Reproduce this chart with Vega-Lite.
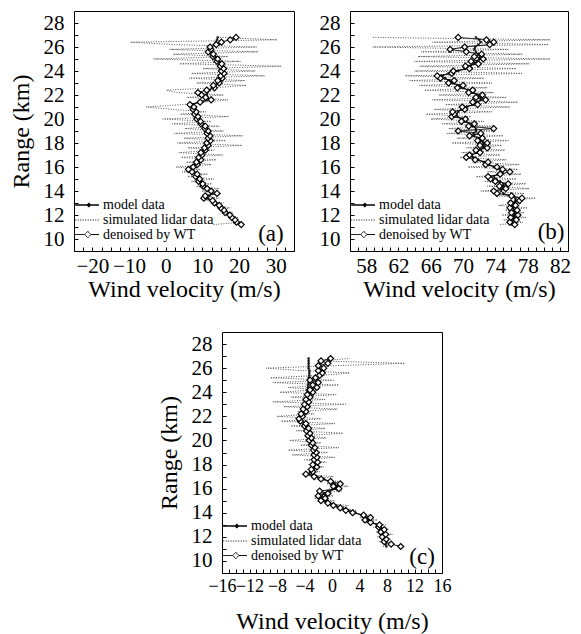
{
"$schema":"https://vega.github.io/schema/vega-lite/v6.json",
"padding":{"left":8,"top":10,"right":4,"bottom":2},
"config":{"font":"Liberation Serif","view":{"stroke":"#000","strokeWidth":1},
"axis":{"labelFont":"Liberation Serif","titleFont":"Liberation Serif","labelFontSize":21,"titleFontSize":24,"titleFontWeight":"normal","labelColor":"#000","titleColor":"#000","domain":false,"grid":false,"tickColor":"#000","tickSize":-4,"tickCount":200,"labelOverlap":false,"labelFlush":false,"labelBound":false},
"axisY":{"labelPadding":14,"titlePadding":10},
"axisX":{"labelPadding":8,"titlePadding":1},
"legend":{"labelFont":"Liberation Serif","labelFontSize":14,"labelColor":"#000"}},
"datasets":{
"a":[{"r":11.2,"m":20.4,"d":20.6,"l":13.0},{"r":11.4,"m":19.6,"d":19.3,"l":20.8},{"r":11.6,"m":18.9,"d":18.9,"l":18.0},{"r":11.8,"m":18.2,"d":18.0,"l":19.6},{"r":12.0,"m":17.3,"d":17.5,"l":16.2},{"r":12.2,"m":16.5,"d":16.2,"l":18.4},{"r":12.4,"m":15.7,"d":15.9,"l":14.8},{"r":12.6,"m":15.2,"d":15.0,"l":17.6},{"r":12.8,"m":14.4,"d":14.6,"l":13.0},{"r":13.0,"m":13.6,"d":13.3,"l":15.8},{"r":13.2,"m":12.5,"d":12.8,"l":11.2},{"r":13.4,"m":11.5,"d":10.4,"l":14.6},{"r":13.6,"m":12.0,"d":10.8,"l":10.4},{"r":13.8,"m":12.6,"d":14.0,"l":15.2},{"r":14.0,"m":11.8,"d":12.4,"l":9.8},{"r":14.2,"m":11.1,"d":11.3,"l":14.5},{"r":14.4,"m":10.5,"d":10.2,"l":8.4},{"r":14.6,"m":9.8,"d":10.1,"l":12.6},{"r":14.8,"m":9.2,"d":9.0,"l":7.0},{"r":15.0,"m":8.9,"d":9.3,"l":13.2},{"r":15.2,"m":8.5,"d":8.2,"l":6.0},{"r":15.4,"m":8.2,"d":8.6,"l":11.5},{"r":15.6,"m":7.5,"d":7.2,"l":4.5},{"r":15.8,"m":6.8,"d":6.2,"l":9.5},{"r":16.0,"m":6.9,"d":7.5,"l":2.8},{"r":16.2,"m":8.1,"d":8.6,"l":12.4},{"r":16.4,"m":8.8,"d":8.4,"l":5.6},{"r":16.6,"m":9.2,"d":9.6,"l":13.8},{"r":16.8,"m":9.3,"d":9.0,"l":4.2},{"r":17.0,"m":9.5,"d":9.9,"l":15.6},{"r":17.2,"m":9.9,"d":9.6,"l":3.6},{"r":17.4,"m":10.4,"d":10.8,"l":13.2},{"r":17.6,"m":10.9,"d":10.6,"l":6.0},{"r":17.8,"m":11.3,"d":11.6,"l":20.8},{"r":18.0,"m":11.6,"d":11.2,"l":3.2},{"r":18.2,"m":11.8,"d":12.2,"l":16.4},{"r":18.4,"m":11.9,"d":11.6,"l":5.0},{"r":18.6,"m":11.8,"d":12.1,"l":21.0},{"r":18.8,"m":11.6,"d":11.3,"l":2.4},{"r":19.0,"m":11.3,"d":11.6,"l":15.8},{"r":19.2,"m":11.0,"d":10.7,"l":5.2},{"r":19.4,"m":10.5,"d":10.8,"l":14.6},{"r":19.6,"m":9.9,"d":9.6,"l":1.8},{"r":19.8,"m":9.3,"d":9.5,"l":12.4},{"r":20.0,"m":8.8,"d":8.5,"l":-0.8},{"r":20.2,"m":8.5,"d":8.8,"l":17.2},{"r":20.4,"m":8.2,"d":7.9,"l":4.0},{"r":20.6,"m":8.0,"d":8.3,"l":11.0},{"r":20.8,"m":7.8,"d":7.5,"l":2.0},{"r":21.0,"m":7.4,"d":7.7,"l":-5.4},{"r":21.2,"m":6.9,"d":6.6,"l":4.6},{"r":21.4,"m":9.0,"d":9.4,"l":10.2},{"r":21.6,"m":11.0,"d":12.4,"l":17.0},{"r":21.8,"m":11.4,"d":10.9,"l":5.8},{"r":22.0,"m":11.2,"d":9.8,"l":15.8},{"r":22.2,"m":11.4,"d":8.8,"l":3.0},{"r":22.4,"m":12.0,"d":11.2,"l":0.2},{"r":22.6,"m":12.8,"d":13.3,"l":12.8},{"r":22.8,"m":13.5,"d":13.0,"l":22.0},{"r":23.0,"m":14.1,"d":14.6,"l":8.4},{"r":23.2,"m":14.6,"d":14.2,"l":21.6},{"r":23.4,"m":15.0,"d":15.4,"l":6.4},{"r":23.6,"m":15.3,"d":15.0,"l":27.0},{"r":23.8,"m":15.5,"d":15.9,"l":7.0},{"r":24.0,"m":15.5,"d":15.2,"l":24.5},{"r":24.2,"m":15.4,"d":15.8,"l":10.2},{"r":24.4,"m":15.2,"d":14.9,"l":31.6},{"r":24.6,"m":14.9,"d":15.3,"l":3.8},{"r":24.8,"m":14.4,"d":14.0,"l":20.4},{"r":25.0,"m":13.8,"d":14.2,"l":-3.4},{"r":25.2,"m":13.3,"d":12.9,"l":17.0},{"r":25.4,"m":12.6,"d":13.0,"l":2.0},{"r":25.6,"m":12.0,"d":11.6,"l":25.2},{"r":25.8,"m":11.9,"d":12.3,"l":1.0},{"r":26.0,"m":12.5,"d":12.1,"l":24.8},{"r":26.2,"m":13.2,"d":13.8,"l":2.4},{"r":26.4,"m":13.7,"d":15.2,"l":-9.6},{"r":26.6,"m":14.0,"d":17.6,"l":30.4},{"r":26.8,"m":14.2,"d":19.2,"l":14.8}],
"b":[{"r":11.2,"m":76.0,"d":76.4,"l":74.6},{"r":11.4,"m":76.1,"d":75.8,"l":77.4},{"r":11.6,"m":76.2,"d":76.6,"l":75.0},{"r":11.8,"m":76.3,"d":75.9,"l":77.8},{"r":12.0,"m":76.3,"d":76.8,"l":74.8},{"r":12.2,"m":76.4,"d":76.0,"l":77.6},{"r":12.4,"m":76.3,"d":76.7,"l":75.2},{"r":12.6,"m":76.2,"d":75.8,"l":78.0},{"r":12.8,"m":76.2,"d":76.5,"l":74.4},{"r":13.0,"m":76.3,"d":75.9,"l":77.2},{"r":13.2,"m":76.5,"d":77.0,"l":75.6},{"r":13.4,"m":76.5,"d":77.3,"l":79.0},{"r":13.6,"m":75.8,"d":76.0,"l":74.0},{"r":13.8,"m":75.0,"d":74.2,"l":77.6},{"r":14.0,"m":74.7,"d":73.8,"l":72.2},{"r":14.2,"m":74.8,"d":75.3,"l":78.2},{"r":14.4,"m":75.0,"d":74.5,"l":73.0},{"r":14.6,"m":75.0,"d":75.6,"l":77.8},{"r":14.8,"m":74.6,"d":74.0,"l":72.6},{"r":15.0,"m":74.1,"d":73.4,"l":76.6},{"r":15.2,"m":73.8,"d":73.1,"l":71.6},{"r":15.4,"m":74.3,"d":74.6,"l":77.2},{"r":15.6,"m":74.9,"d":75.8,"l":73.0},{"r":15.8,"m":74.6,"d":74.9,"l":76.8},{"r":16.0,"m":73.8,"d":74.2,"l":70.6},{"r":16.2,"m":73.2,"d":72.8,"l":77.0},{"r":16.4,"m":72.6,"d":73.1,"l":71.2},{"r":16.6,"m":71.9,"d":71.5,"l":75.4},{"r":16.8,"m":71.2,"d":70.4,"l":69.6},{"r":17.0,"m":71.1,"d":70.8,"l":74.6},{"r":17.2,"m":71.6,"d":72.1,"l":69.8},{"r":17.4,"m":72.2,"d":71.6,"l":75.2},{"r":17.6,"m":72.5,"d":73.0,"l":70.4},{"r":17.8,"m":72.6,"d":72.1,"l":74.8},{"r":18.0,"m":72.5,"d":73.0,"l":68.6},{"r":18.2,"m":72.3,"d":71.8,"l":75.6},{"r":18.4,"m":71.9,"d":72.4,"l":69.2},{"r":18.6,"m":71.4,"d":70.8,"l":75.0},{"r":18.8,"m":71.3,"d":72.2,"l":68.0},{"r":19.0,"m":71.6,"d":69.4,"l":74.0},{"r":19.2,"m":71.6,"d":73.8,"l":68.2},{"r":19.4,"m":71.2,"d":70.7,"l":73.8},{"r":19.6,"m":70.8,"d":71.4,"l":67.4},{"r":19.8,"m":70.4,"d":69.8,"l":72.6},{"r":20.0,"m":69.8,"d":70.3,"l":66.0},{"r":20.2,"m":69.3,"d":68.6,"l":71.0},{"r":20.4,"m":69.2,"d":68.9,"l":65.4},{"r":20.6,"m":69.4,"d":68.7,"l":73.6},{"r":20.8,"m":69.8,"d":70.2,"l":66.4},{"r":21.0,"m":70.5,"d":69.9,"l":75.8},{"r":21.2,"m":71.2,"d":71.8,"l":67.8},{"r":21.4,"m":71.8,"d":71.2,"l":76.8},{"r":21.6,"m":72.2,"d":72.8,"l":66.2},{"r":21.8,"m":72.2,"d":71.6,"l":75.4},{"r":22.0,"m":71.8,"d":72.4,"l":67.0},{"r":22.2,"m":71.3,"d":70.7,"l":73.8},{"r":22.4,"m":70.6,"d":71.2,"l":65.2},{"r":22.6,"m":70.0,"d":69.3,"l":73.0},{"r":22.8,"m":69.4,"d":70.0,"l":64.6},{"r":23.0,"m":68.8,"d":68.2,"l":73.6},{"r":23.2,"m":68.3,"d":68.9,"l":63.4},{"r":23.4,"m":67.8,"d":67.2,"l":72.6},{"r":23.6,"m":67.4,"d":66.8,"l":62.8},{"r":23.8,"m":68.2,"d":68.6,"l":77.4},{"r":24.0,"m":69.4,"d":68.8,"l":64.0},{"r":24.2,"m":70.2,"d":70.8,"l":76.6},{"r":24.4,"m":70.9,"d":70.3,"l":64.6},{"r":24.6,"m":71.3,"d":71.9,"l":78.2},{"r":24.8,"m":71.7,"d":71.0,"l":64.0},{"r":25.0,"m":72.0,"d":72.5,"l":80.8},{"r":25.2,"m":72.1,"d":71.4,"l":64.4},{"r":25.4,"m":71.9,"d":72.3,"l":77.4},{"r":25.6,"m":71.6,"d":70.4,"l":64.8},{"r":25.8,"m":71.4,"d":68.4,"l":75.6},{"r":26.0,"m":71.5,"d":70.2,"l":58.8},{"r":26.2,"m":71.9,"d":73.3,"l":80.6},{"r":26.4,"m":72.2,"d":73.8,"l":66.2},{"r":26.6,"m":72.0,"d":72.9,"l":80.8},{"r":26.8,"m":71.6,"d":69.4,"l":58.8}],
"c":[{"r":11.2,"m":7.9,"d":10.0,"l":7.4},{"r":11.4,"m":7.8,"d":8.6,"l":9.0},{"r":11.6,"m":7.7,"d":7.6,"l":6.8},{"r":11.8,"m":7.6,"d":7.9,"l":8.6},{"r":12.0,"m":7.5,"d":7.3,"l":6.6},{"r":12.2,"m":7.4,"d":7.8,"l":8.8},{"r":12.4,"m":7.3,"d":7.1,"l":6.4},{"r":12.6,"m":7.2,"d":7.6,"l":8.2},{"r":12.8,"m":7.0,"d":6.8,"l":6.0},{"r":13.0,"m":6.5,"d":6.9,"l":7.8},{"r":13.2,"m":5.8,"d":5.6,"l":4.6},{"r":13.4,"m":5.3,"d":4.8,"l":6.6},{"r":13.6,"m":4.9,"d":5.6,"l":4.0},{"r":13.8,"m":4.3,"d":4.6,"l":5.8},{"r":14.0,"m":3.4,"d":3.0,"l":2.6},{"r":14.2,"m":2.4,"d":2.0,"l":3.6},{"r":14.4,"m":1.5,"d":1.2,"l":0.6},{"r":14.6,"m":0.6,"d":0.2,"l":2.4},{"r":14.8,"m":-0.3,"d":-0.6,"l":-1.2},{"r":15.0,"m":-1.0,"d":-1.6,"l":0.4},{"r":15.2,"m":-1.4,"d":-1.0,"l":-2.6},{"r":15.4,"m":-1.5,"d":-2.0,"l":0.2},{"r":15.6,"m":-1.2,"d":-0.6,"l":-2.0},{"r":15.8,"m":-0.3,"d":-1.8,"l":1.4},{"r":16.0,"m":0.6,"d":1.0,"l":-0.4},{"r":16.2,"m":0.8,"d":0.2,"l":2.4},{"r":16.4,"m":0.4,"d":1.2,"l":-0.8},{"r":16.6,"m":-0.4,"d":-0.2,"l":1.0},{"r":16.8,"m":-1.2,"d":-1.6,"l":-2.4},{"r":17.0,"m":-2.2,"d":-2.6,"l":0.2},{"r":17.2,"m":-3.3,"d":-3.8,"l":-4.4},{"r":17.4,"m":-3.2,"d":-2.8,"l":-1.8},{"r":17.6,"m":-2.8,"d":-3.0,"l":-3.6},{"r":17.8,"m":-2.6,"d":-2.2,"l":-1.2},{"r":18.0,"m":-2.5,"d":-2.8,"l":-3.4},{"r":18.2,"m":-2.4,"d":-2.1,"l":-0.8},{"r":18.4,"m":-2.4,"d":-2.6,"l":-4.0},{"r":18.6,"m":-2.4,"d":-2.2,"l":0.4},{"r":18.8,"m":-2.4,"d":-2.6,"l":-5.8},{"r":19.0,"m":-2.4,"d":-2.3,"l":-0.6},{"r":19.2,"m":-2.5,"d":-2.7,"l":-6.4},{"r":19.4,"m":-2.7,"d":-2.5,"l":1.0},{"r":19.6,"m":-2.8,"d":-3.0,"l":-4.6},{"r":19.8,"m":-3.0,"d":-2.8,"l":-1.6},{"r":20.0,"m":-3.1,"d":-3.3,"l":-6.2},{"r":20.2,"m":-3.2,"d":-3.0,"l":-0.8},{"r":20.4,"m":-3.3,"d":-3.5,"l":-3.8},{"r":20.6,"m":-3.4,"d":-3.2,"l":1.6},{"r":20.8,"m":-3.5,"d":-3.7,"l":-5.2},{"r":21.0,"m":-3.6,"d":-3.4,"l":-1.0},{"r":21.2,"m":-3.8,"d":-4.0,"l":-6.0},{"r":21.4,"m":-4.0,"d":-3.8,"l":0.4},{"r":21.6,"m":-4.3,"d":-4.6,"l":-7.4},{"r":21.8,"m":-4.6,"d":-4.8,"l":-1.6},{"r":22.0,"m":-4.5,"d":-4.3,"l":-8.0},{"r":22.2,"m":-4.2,"d":-4.5,"l":-2.6},{"r":22.4,"m":-4.1,"d":-3.8,"l":-5.0},{"r":22.6,"m":-4.0,"d":-4.2,"l":0.8},{"r":22.8,"m":-4.0,"d":-3.6,"l":-7.0},{"r":23.0,"m":-3.9,"d":-4.0,"l":2.0},{"r":23.2,"m":-3.9,"d":-3.4,"l":-8.6},{"r":23.4,"m":-3.8,"d":-3.8,"l":-1.0},{"r":23.6,"m":-3.7,"d":-3.2,"l":-6.0},{"r":23.8,"m":-3.7,"d":-3.6,"l":0.6},{"r":24.0,"m":-3.6,"d":-2.8,"l":-7.6},{"r":24.2,"m":-3.6,"d":-3.2,"l":-2.2},{"r":24.4,"m":-3.5,"d":-2.2,"l":-6.4},{"r":24.6,"m":-3.5,"d":-2.8,"l":1.0},{"r":24.8,"m":-3.4,"d":-2.0,"l":-8.6},{"r":25.0,"m":-3.4,"d":-3.2,"l":0.2},{"r":25.2,"m":-3.4,"d":-2.4,"l":-9.0},{"r":25.4,"m":-3.3,"d":-1.8,"l":-1.6},{"r":25.6,"m":-3.3,"d":-1.4,"l":2.6},{"r":25.8,"m":-3.3,"d":-2.0,"l":-4.4},{"r":26.0,"m":-3.4,"d":-1.2,"l":-9.6},{"r":26.2,"m":-3.4,"d":-2.0,"l":0.4},{"r":26.4,"m":-3.4,"d":-0.6,"l":10.6},{"r":26.6,"m":-3.4,"d":-1.6,"l":-2.0},{"r":26.8,"m":-3.4,"d":-0.2,"l":2.6}]
},
"vconcat":[
{"hconcat":[
{"width":220,"height":240,"data":{"name":"a"},"transform":[{"fold":["l","m","d"],"as":["s","v"]}],
"layer":[
{"mark":{"type":"line","strokeWidth":1},"encoding":{
"x":{"field":"v","type":"quantitative","scale":{"domain":[-25,35],"nice":false,"zero":false},"axis":{"values":[-25,-22.5,-20,-17.5,-15,-12.5,-10,-7.5,-5,-2.5,0,2.5,5,7.5,10,12.5,15,17.5,20,22.5,25,27.5,30,32.5,35],"tickCount":200,"format":"d","labelExpr":"datum.value % 10 == 0 ? datum.label : ''","labelOverlap":false,"labelFlush":false,"title":"Wind velocity (m/s)"}},
"y":{"field":"r","type":"quantitative","scale":{"domain":[9,29],"nice":false,"zero":false},"axis":{"values":[10,11,12,13,14,15,16,17,18,19,20,21,22,23,24,25,26,27,28],"tickCount":200,"format":"d","labelExpr":"datum.value % 2 == 0 ? datum.label : ''","labelOverlap":false,"labelFlush":false,"title":"Range (km)"}},
"order":{"field":"r","type":"quantitative"},
"color":{"field":"s","type":"nominal","scale":{"domain":["m","l","d"],"range":["#000","#555","#000"]},"legend":{"title":null,"orient":"none","legendX":10,"legendY":186,"padding":0,"rowPadding":-1,"symbolSize":196,"symbolStrokeWidth":1,"labelOffset":3,"labelExpr":"datum.value == 'm' ? 'model data' : datum.value == 'l' ? 'simulated lidar data' : 'denoised by WT'","encode":{"symbols":{"update":{"shape":{"signal":"datum.value == 'd' ? 'M-2.4,0L-1.05,0M-0.15,0L1,0M-1.05,0L-0.6,-0.45L-0.15,0L-0.6,0.45Z' : datum.value == 'm' ? 'M-2.4,0L1,0M-0.45,-0.2L-0.25,0L-0.45,0.2L-0.65,0Z' : 'M-2.4,0L1,0'"},"fill":{"value":"#fff"}}}}}},
"strokeDash":{"field":"s","type":"nominal","scale":{"domain":["m","l","d"],"range":[[1,0],[1,1.5],[1,0]]},"legend":null},
"strokeWidth":{"field":"s","type":"nominal","scale":{"domain":["m","l","d"],"range":[1.6,1,1]},"legend":null}
}},
{"transform":[{"filter":"datum.s == 'm'"}],"mark":{"type":"point","shape":"circle","size":8,"filled":true,"color":"#000"},"encoding":{"x":{"field":"v","type":"quantitative"},"y":{"field":"r","type":"quantitative"}}},
{"transform":[{"filter":"datum.s == 'd'"}],"mark":{"type":"point","shape":"diamond","size":36,"filled":true,"fill":"#fff","stroke":"#000","strokeWidth":1.2,"opacity":1},"encoding":{"x":{"field":"v","type":"quantitative"},"y":{"field":"r","type":"quantitative"}}},
{"data":{"values":[{"t":"(a)"}]},"mark":{"type":"text","fontSize":23,"font":"Liberation Serif","color":"#000"},"encoding":{"x":{"datum":28.7,"type":"quantitative"},"y":{"datum":10.4,"type":"quantitative"},"text":{"field":"t"}}}
]},
{"width":218,"height":240,"data":{"name":"b"},"transform":[{"fold":["l","m","d"],"as":["s","v"]}],
"layer":[
{"mark":{"type":"line","strokeWidth":1},"encoding":{
"x":{"field":"v","type":"quantitative","scale":{"domain":[56,83],"nice":false,"zero":false},"axis":{"values":[56,57,58,59,60,61,62,63,64,65,66,67,68,69,70,71,72,73,74,75,76,77,78,79,80,81,82,83],"tickCount":200,"format":"d","labelExpr":"(datum.value - 58) % 4 == 0 ? datum.label : ''","labelOverlap":false,"labelFlush":false,"title":"Wind velocity (m/s)"}},
"y":{"field":"r","type":"quantitative","scale":{"domain":[9,29],"nice":false,"zero":false},"axis":{"values":[10,11,12,13,14,15,16,17,18,19,20,21,22,23,24,25,26,27,28],"tickCount":200,"format":"d","labelExpr":"datum.value % 2 == 0 ? datum.label : ''","labelOverlap":false,"labelFlush":false,"title":null}},
"order":{"field":"r","type":"quantitative"},
"color":{"field":"s","type":"nominal","scale":{"domain":["m","l","d"],"range":["#000","#555","#000"]},"legend":{"title":null,"orient":"none","legendX":10,"legendY":186,"padding":0,"rowPadding":-1,"symbolSize":196,"symbolStrokeWidth":1,"labelOffset":3,"labelExpr":"datum.value == 'm' ? 'model data' : datum.value == 'l' ? 'simulated lidar data' : 'denoised by WT'","encode":{"symbols":{"update":{"shape":{"signal":"datum.value == 'd' ? 'M-2.4,0L-1.05,0M-0.15,0L1,0M-1.05,0L-0.6,-0.45L-0.15,0L-0.6,0.45Z' : datum.value == 'm' ? 'M-2.4,0L1,0M-0.45,-0.2L-0.25,0L-0.45,0.2L-0.65,0Z' : 'M-2.4,0L1,0'"},"fill":{"value":"#fff"}}}}}},
"strokeDash":{"field":"s","type":"nominal","scale":{"domain":["m","l","d"],"range":[[1,0],[1,1.5],[1,0]]},"legend":null},
"strokeWidth":{"field":"s","type":"nominal","scale":{"domain":["m","l","d"],"range":[1.6,1,1]},"legend":null}
}},
{"transform":[{"filter":"datum.s == 'm'"}],"mark":{"type":"point","shape":"circle","size":8,"filled":true,"color":"#000"},"encoding":{"x":{"field":"v","type":"quantitative"},"y":{"field":"r","type":"quantitative"}}},
{"transform":[{"filter":"datum.s == 'd'"}],"mark":{"type":"point","shape":"diamond","size":36,"filled":true,"fill":"#fff","stroke":"#000","strokeWidth":1.2,"opacity":1},"encoding":{"x":{"field":"v","type":"quantitative"},"y":{"field":"r","type":"quantitative"}}},
{"data":{"values":[{"t":"(b)"}]},"mark":{"type":"text","fontSize":23,"font":"Liberation Serif","color":"#000"},"encoding":{"x":{"datum":80.9,"type":"quantitative"},"y":{"datum":10.6,"type":"quantitative"},"text":{"field":"t"}}}
]}
],"spacing":23,"resolve":{"scale":{"color":"independent","strokeDash":"independent","strokeWidth":"independent"},"legend":{"color":"independent","strokeDash":"independent","strokeWidth":"independent"}}},
{"hconcat":[
{"width":82,"height":1,"view":{"stroke":null},"data":{"values":[{}]},"mark":{"type":"point","opacity":0}},
{"width":220,"height":241,"data":{"name":"c"},"transform":[{"fold":["l","m","d"],"as":["s","v"]}],
"layer":[
{"mark":{"type":"line","strokeWidth":1},"encoding":{
"x":{"field":"v","type":"quantitative","scale":{"domain":[-16,16],"nice":false,"zero":false},"axis":{"values":[-16,-15,-14,-13,-12,-11,-10,-9,-8,-7,-6,-5,-4,-3,-2,-1,0,1,2,3,4,5,6,7,8,9,10,11,12,13,14,15,16],"tickCount":200,"format":"d","labelFontSize":18,"titlePadding":14,"labelExpr":"datum.value % 4 == 0 ? datum.label : ''","labelOverlap":false,"labelFlush":false,"title":"Wind velocity (m/s)"}},
"y":{"field":"r","type":"quantitative","scale":{"domain":[9,29],"nice":false,"zero":false},"axis":{"values":[10,11,12,13,14,15,16,17,18,19,20,21,22,23,24,25,26,27,28],"tickCount":200,"format":"d","labelExpr":"datum.value % 2 == 0 ? datum.label : ''","labelOverlap":false,"labelFlush":false,"title":"Range (km)"}},
"order":{"field":"r","type":"quantitative"},
"color":{"field":"s","type":"nominal","scale":{"domain":["m","l","d"],"range":["#000","#555","#000"]},"legend":{"title":null,"orient":"none","legendX":10,"legendY":186,"padding":0,"rowPadding":-1,"symbolSize":196,"symbolStrokeWidth":1,"labelOffset":3,"labelExpr":"datum.value == 'm' ? 'model data' : datum.value == 'l' ? 'simulated lidar data' : 'denoised by WT'","encode":{"symbols":{"update":{"shape":{"signal":"datum.value == 'd' ? 'M-2.4,0L-1.05,0M-0.15,0L1,0M-1.05,0L-0.6,-0.45L-0.15,0L-0.6,0.45Z' : datum.value == 'm' ? 'M-2.4,0L1,0M-0.45,-0.2L-0.25,0L-0.45,0.2L-0.65,0Z' : 'M-2.4,0L1,0'"},"fill":{"value":"#fff"}}}}}},
"strokeDash":{"field":"s","type":"nominal","scale":{"domain":["m","l","d"],"range":[[1,0],[1,1.5],[1,0]]},"legend":null},
"strokeWidth":{"field":"s","type":"nominal","scale":{"domain":["m","l","d"],"range":[1.6,1,1]},"legend":null}
}},
{"transform":[{"filter":"datum.s == 'm'"}],"mark":{"type":"point","shape":"circle","size":8,"filled":true,"color":"#000"},"encoding":{"x":{"field":"v","type":"quantitative"},"y":{"field":"r","type":"quantitative"}}},
{"transform":[{"filter":"datum.s == 'd'"}],"mark":{"type":"point","shape":"diamond","size":36,"filled":true,"fill":"#fff","stroke":"#000","strokeWidth":1.2,"opacity":1},"encoding":{"x":{"field":"v","type":"quantitative"},"y":{"field":"r","type":"quantitative"}}},
{"data":{"values":[{"t":"(c)"}]},"mark":{"type":"text","fontSize":23,"font":"Liberation Serif","color":"#000"},"encoding":{"x":{"datum":13.1,"type":"quantitative"},"y":{"datum":10.3,"type":"quantitative"},"text":{"field":"t"}}}
]}
],"spacing":0,"resolve":{"scale":{"color":"independent","strokeDash":"independent","strokeWidth":"independent"},"legend":{"color":"independent","strokeDash":"independent","strokeWidth":"independent"}}}
],
"spacing":27,
"resolve":{"scale":{"color":"independent","strokeDash":"independent","strokeWidth":"independent"},"legend":{"color":"independent","strokeDash":"independent","strokeWidth":"independent"}}
}
